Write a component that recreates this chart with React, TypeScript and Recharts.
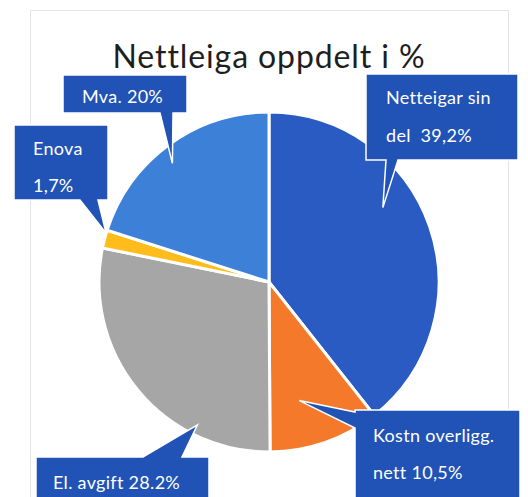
import React from "react";
import { PieChart, Pie, Cell } from "recharts";

const categories = ["Netteigar sin del", "Kostn overligg. nett", "El. avgift", "Enova", "Mva."];
const shares = [39.2, 10.5, 28.2, 1.7, 20];
const labelLines = [
  ["Netteigar sin", "del  39,2%"],
  ["Kostn overligg.", "nett 10,5%"],
  ["El. avgift 28.2%"],
  ["Enova", "1,7%"],
  ["Mva. 20%"],
];
const colors = ["#2A5BC2", "#F5792B", "#A6A6A6", "#FFBC1A", "#3C80D8"];

const data = categories.map((name, i) => ({ name, value: shares[i] }));

// callout boxes, placed relative to the pie centre
type Side = "top" | "bottom" | "left";
const callouts: {
  box: [number, number, number, number];
  side: Side;
  base: [number, number];
  tipShift: number;
  tipR: number;
  pad: number;
  lineY: number[];
}[] = [
  { box: [97, -208, 152, 86], side: "bottom", base: [20, 32], tipShift: -14, tipR: 0.8, pad: 20, lineY: [23, 61] },
  { box: [86, 128, 165, 100], side: "left", base: [2, 18], tipShift: 5, tipR: 0.72, pad: 18, lineY: [25, 62] },
  { box: [-233, 175, 173, 60], side: "top", base: [107, 146], tipShift: -24, tipR: 0.94, pad: 17, lineY: [25] },
  { box: [-255, -157, 94, 75], side: "bottom", base: [66, 84], tipShift: 2, tipR: 1.0, pad: 19, lineY: [23, 60] },
  { box: [-206, -207, 124, 38], side: "bottom", base: [97, 110], tipShift: -3, tipR: 0.9, pad: 19, lineY: [21] },
];

const RAD = Math.PI / 180;

function calloutPath(x: number, y: number, w: number, h: number, side: Side, p1: number, p2: number, tx: number, ty: number) {
  if (side === "top")
    return `M${x},${y} L${x + p1},${y} L${tx},${ty} L${x + p2},${y} L${x + w},${y} L${x + w},${y + h} L${x},${y + h} Z`;
  if (side === "left")
    return `M${x},${y} L${x + w},${y} L${x + w},${y + h} L${x},${y + h} L${x},${y + p2} L${tx},${ty} L${x},${y + p1} Z`;
  return `M${x},${y} L${x + w},${y} L${x + w},${y + h} L${x + p2},${y + h} L${tx},${ty} L${x + p1},${y + h} L${x},${y + h} Z`;
}

const renderCallout = (props: any) => {
  const { cx, cy, midAngle, outerRadius, index } = props;
  const c = callouts[index];
  const ang = (midAngle - c.tipShift) * RAD;
  const tx = cx + outerRadius * c.tipR * Math.cos(-ang);
  const ty = cy + outerRadius * c.tipR * Math.sin(-ang);
  const [dx, dy, w, h] = c.box;
  const x = cx + dx;
  const y = cy + dy;
  return (
    <g key={`callout-${index}`}>
      <path
        d={calloutPath(x, y, w, h, c.side, c.base[0], c.base[1], tx, ty)}
        fill="#2152B6"
        stroke="#ffffff"
        strokeWidth={1.5}
      />
      {labelLines[index].map((line, j) => (
        <text
          key={j}
          x={x + c.pad}
          y={y + c.lineY[j]}
          dominantBaseline="central"
          fill="#ffffff"
          fontSize={18}
          letterSpacing={0.3}
          fontFamily="Lato, sans-serif"
          style={{ whiteSpace: "pre" }}
        >
          {line}
        </text>
      ))}
    </g>
  );
};

export default function App() {
  return (
    <div style={{ position: "relative", width: 528, height: 497, background: "#fff", overflow: "hidden" }}>
      <style>{`body{margin:0}`}</style>
      <div
        style={{
          position: "absolute",
          left: 30,
          top: 10,
          width: 477,
          height: 500,
          border: "1px solid #e4e4e4",
        }}
      />
      <div
        style={{
          position: "absolute",
          left: 0,
          top: 36,
          width: 538,
          textAlign: "center",
          fontFamily: "Lato, sans-serif",
          fontSize: 32,
          letterSpacing: 0.9,
          color: "#1e1e1e",
          lineHeight: "40px",
        }}
      >
        Nettleiga oppdelt i %
      </div>
      <div style={{ position: "absolute", left: 0, top: 0 }}>
        <PieChart width={528} height={497}>
          <Pie
            data={data}
            dataKey="value"
            nameKey="name"
            cx={264}
            cy={277}
            outerRadius={170}
            startAngle={90}
            endAngle={-270}
            stroke="#ffffff"
            strokeWidth={3}
            labelLine={false}
            label={renderCallout}
            isAnimationActive={false}
          >
            {data.map((d, i) => (
              <Cell key={d.name} fill={colors[i]} />
            ))}
          </Pie>
        </PieChart>
      </div>
    </div>
  );
}
